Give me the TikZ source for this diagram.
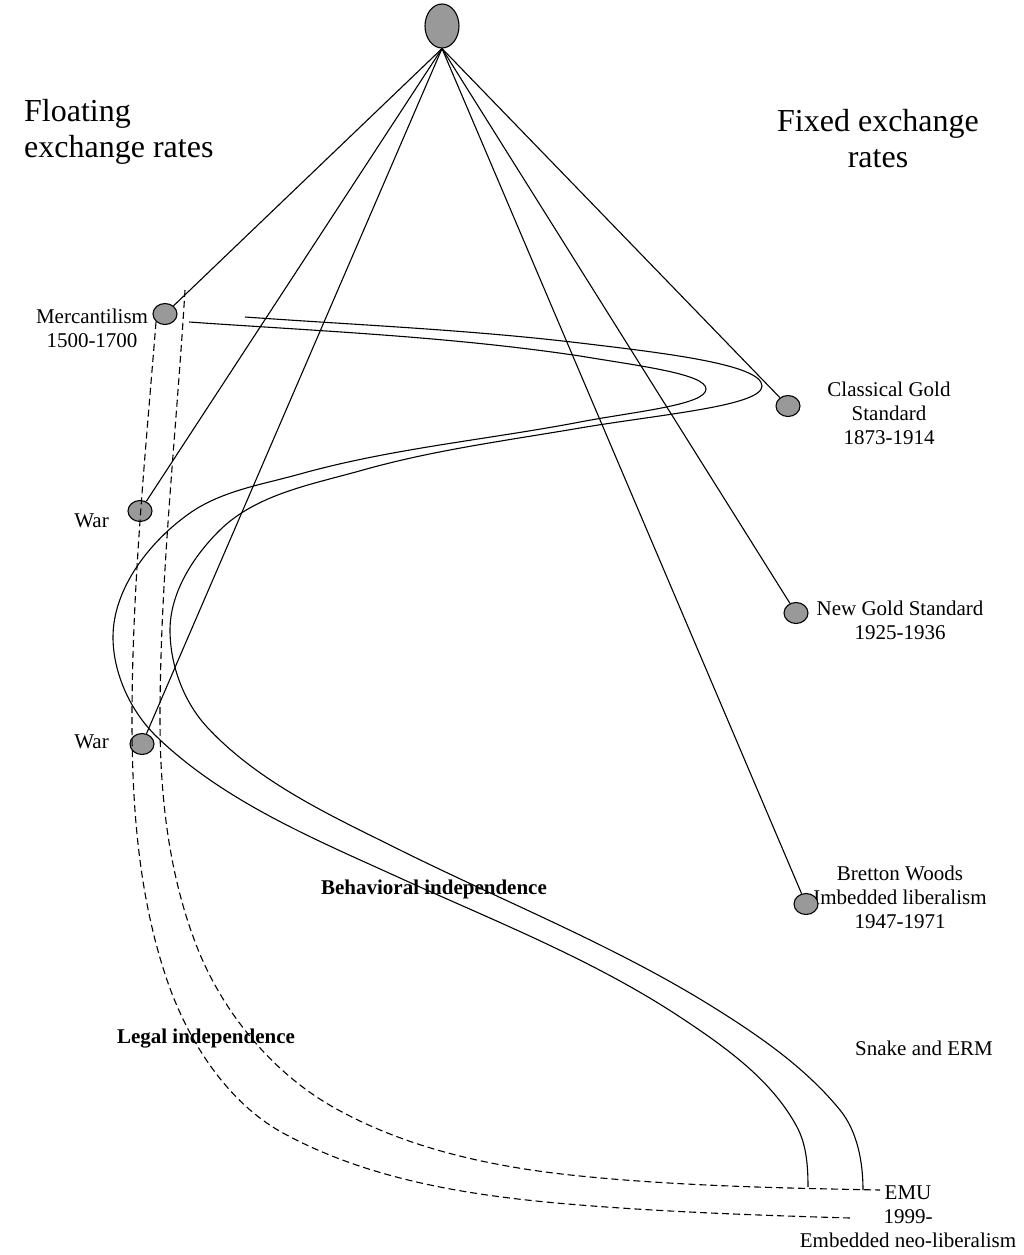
\documentclass[tikz,border=0pt]{standalone}
\usepackage{fontspec}
\setmainfont{Liberation Serif}
\usetikzlibrary{shapes.geometric}
\definecolor{nodegray}{RGB}{153,153,153}
\begin{document}
\begin{tikzpicture}[x=1pt,y=-1pt,
  dot/.style={ellipse, draw, fill=nodegray, minimum width=24pt, minimum height=21pt, inner sep=0pt, line width=1.1pt},
  lbl/.style={inner sep=0pt, font=\fontsize{21}{24}\selectfont, align=center},
  big/.style={inner sep=0pt, font=\fontsize{32}{36}\selectfont},
  bld/.style={inner sep=0pt, font=\fontsize{21}{24}\selectfont\bfseries},
  link/.style={line width=1.1pt},
  band/.style={line width=1.1pt},
  legal/.style={line width=1.1pt, dash pattern=on 7pt off 4pt}]
\useasboundingbox (0,0) rectangle (1024,1255);

% labels
\node[big, anchor=west, align=left] (float) at (24,132) {Floating\\exchange rates};
\node[big, align=center] (fixed) at (878,139) {Fixed exchange\\rates};
\node[lbl] (mercl) at (92,328) {Mercantilism\\1500-1700};
\node[lbl, anchor=east] (war1l) at (109,521) {War};
\node[lbl, anchor=east] (war2l) at (109,742) {War};
\node[lbl] (cgsl) at (889,413) {Classical Gold\\Standard\\1873-1914};
\node[lbl] (ngsl) at (900,620) {New Gold Standard\\1925-1936};
\node[lbl] (bwl) at (900,897) {Bretton Woods\\Imbedded liberalism\\1947-1971};
\node[lbl] (snake) at (924,1048) {Snake and ERM};
\node[lbl] (emu) at (908,1217) {EMU\\1999-\\Embedded neo-liberalism};
\node[bld] (beh) at (434,889) {Behavioral independence};
\node[bld] (legal) at (206,1039) {Legal independence};

% nodes
\node[dot, minimum width=34pt, minimum height=44pt] (top) at (442,26) {};
\node[dot] (merc) at (165,314) {};
\node[dot] (war1) at (140,511) {};
\node[dot] (war2) at (142,744) {};
\node[dot] (cgs) at (788,406) {};
\node[dot] (ngs) at (796,613) {};
\node[dot] (bw) at (806,904) {};

% connectors
\draw[link] (top.south) -- (merc);
\draw[link] (top.south) -- (war1);
\draw[link] (top.south) -- (war2);
\draw[link] (top.south) -- (cgs);
\draw[link] (top.south) -- (ngs);
\draw[link] (top.south) -- (bw);

% behavioral independence band
\draw[band] (189,322)
  .. controls (319.5,331.1) and (450.6,336.6) .. (580,356)
  .. controls (640,366) and (706,374) .. (706,389)
  .. controls (706,405) and (635,411.5) .. (580,422)
  .. controls (486.7,439.8) and (391.5,448.4) .. (300,474)
  .. controls (262.5,484.5) and (221.9,490.7) .. (190,513)
  .. controls (150.1,540.9) and (113,588.3) .. (113,637)
  .. controls (113,673.4) and (130.8,711.8) .. (157,737)
  .. controls (224.5,801.9) and (314.8,839.2) .. (400,878)
  .. controls (494.8,921.1) and (593,959.6) .. (680,1017)
  .. controls (724.7,1046.5) and (771.9,1079.9) .. (797,1127)
  .. controls (806.3,1144.3) and (808,1165.3) .. (808,1187);
\draw[band] (245,317)
  .. controls (356.7,325) and (468.8,329.7) .. (580,343)
  .. controls (660,352.6) and (762,364) .. (762,386)
  .. controls (762,406) and (660,414.4) .. (580,428)
  .. controls (507.3,440.4) and (433.9,450) .. (363,470)
  .. controls (313.3,484.1) and (256.9,493.8) .. (220,530)
  .. controls (193.4,556.1) and (170,592.7) .. (170,630)
  .. controls (170,664.6) and (183.5,701.6) .. (207,727)
  .. controls (258.9,782.9) and (331.7,816) .. (400,850)
  .. controls (504.5,901.9) and (614,945.3) .. (713,1007)
  .. controls (759.2,1035.8) and (805.6,1067.8) .. (840,1110)
  .. controls (857.5,1131.5) and (863,1162.3) .. (863,1190);

% legal independence band
\draw[legal] (156,322)
  .. controls (145.4,454.5) and (132,587.1) .. (132,720)
  .. controls (132,807.4) and (138.8,897.3) .. (167,980)
  .. controls (187.7,1040.5) and (226.9,1102.3) .. (283,1133)
  .. controls (372.3,1181.9) and (478.5,1196.9) .. (580,1205)
  .. controls (669.7,1212.2) and (760,1215.3) .. (850,1218);
\draw[legal] (185,290)
  .. controls (176.4,433.3) and (160,576.4) .. (160,720)
  .. controls (160,796.7) and (169,875.6) .. (197,947)
  .. controls (222.6,1012.2) and (272.1,1072.5) .. (333,1107)
  .. controls (407.4,1149.2) and (494.9,1167.5) .. (580,1176)
  .. controls (679.5,1186) and (780,1188) .. (880,1190);
\end{tikzpicture}
\end{document}
